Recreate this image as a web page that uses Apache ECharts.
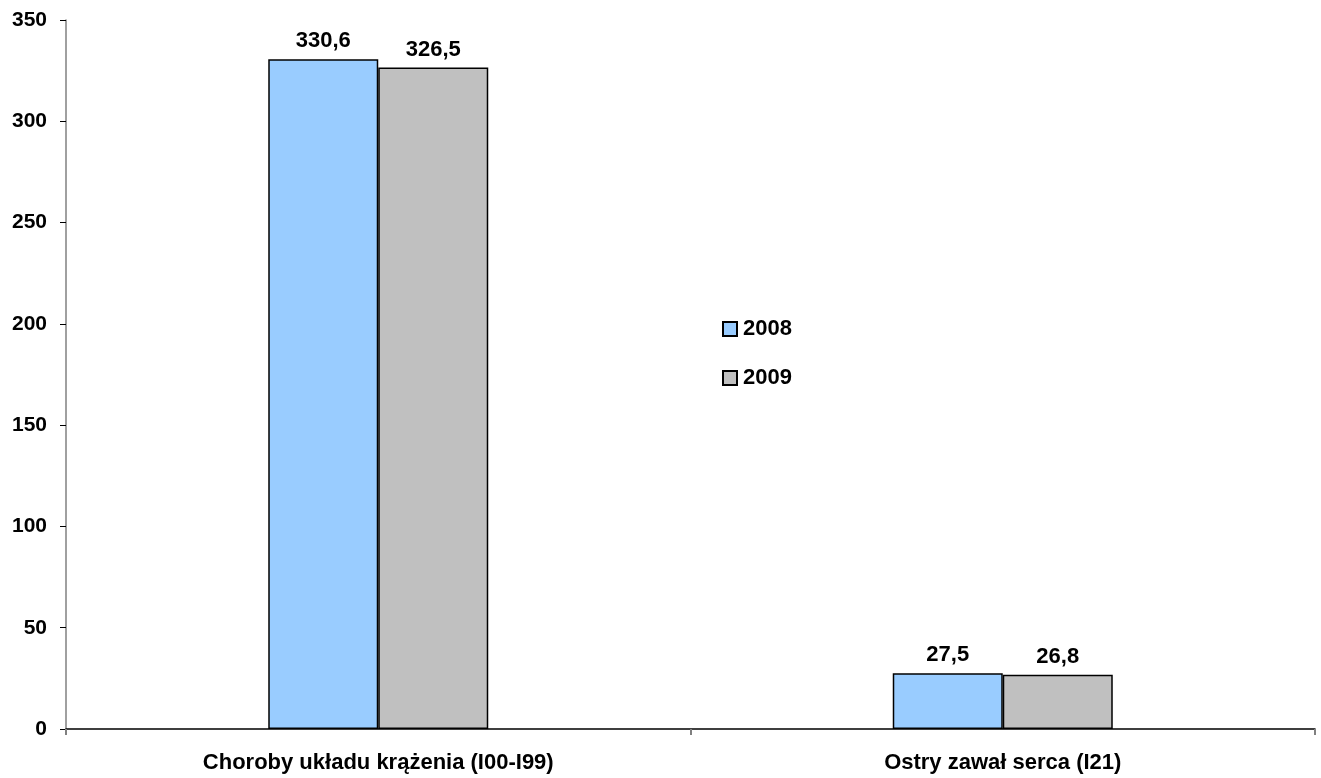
<!DOCTYPE html>
<html><head><meta charset="utf-8">
<script src="https://cdn.jsdelivr.net/npm/echarts@6/dist/echarts.min.js"></script>
<style>html,body{margin:0;padding:0;background:#fff}#c{width:1321px;height:778px}</style>
</head><body><div id="c"></div>
<script>
const categories = ['Choroby układu krążenia (I00-I99)', 'Ostry zawał serca (I21)'];
const s2008 = [330.6, 27.5];
const s2009 = [326.5, 26.8];
const seriesNames = ['2008', '2009'];
const yTicks = [0, 50, 100, 150, 200, 250, 300, 350];

const font = 'Liberation Sans, Arial, sans-serif';
const chart = echarts.init(document.getElementById('c'));
const lbl = {
  show: true, position: 'top', distance: 7,
  fontFamily: font, fontWeight: 'bold', fontSize: 22, color: '#000',
  formatter: p => String(p.value).replace('.', ',')
};
chart.setOption({
  animation: false,
  textStyle: { fontFamily: font },
  grid: { left: 66, right: 6, top: 20, bottom: 49, containLabel: false },
  legend: {
    orient: 'vertical', left: 717, top: 313, itemGap: 27,
    itemWidth: 14, itemHeight: 14, icon: 'rect',
    textStyle: { fontFamily: font, fontWeight: 'bold', fontSize: 22, color: '#000', padding: [0, 0, 0, 1] },
    data: seriesNames
  },
  xAxis: {
    type: 'category', data: categories, boundaryGap: true,
    axisLine: { lineStyle: { color: '#000', width: 1.5 } },
    axisTick: { show: true, length: 6, lineStyle: { color: '#808080', width: 2 } },
    axisLabel: { fontFamily: font, fontWeight: 'bold', fontSize: 22, color: '#000', margin: 23 }
  },
  yAxis: {
    type: 'value', min: yTicks[0], max: yTicks[yTicks.length - 1], interval: 50,
    axisLine: { show: true, lineStyle: { color: '#808080', width: 1.5 } },
    axisTick: { show: true, length: 6, lineStyle: { color: '#000', width: 1 } },
    splitLine: { show: false },
    axisLabel: { fontFamily: font, fontWeight: 'bold', fontSize: 21, color: '#000', margin: 19 }
  },
  series: [
    { name: seriesNames[0], type: 'bar', data: s2008, barWidth: 110, barGap: '0%',
      itemStyle: { color: '#99CCFF', borderColor: '#000', borderWidth: 1.5 }, label: lbl },
    { name: seriesNames[1], type: 'bar', data: s2009, barWidth: 110, barGap: '0%',
      itemStyle: { color: '#C0C0C0', borderColor: '#000', borderWidth: 1.5 }, label: lbl }
  ]
});
</script></body></html>
